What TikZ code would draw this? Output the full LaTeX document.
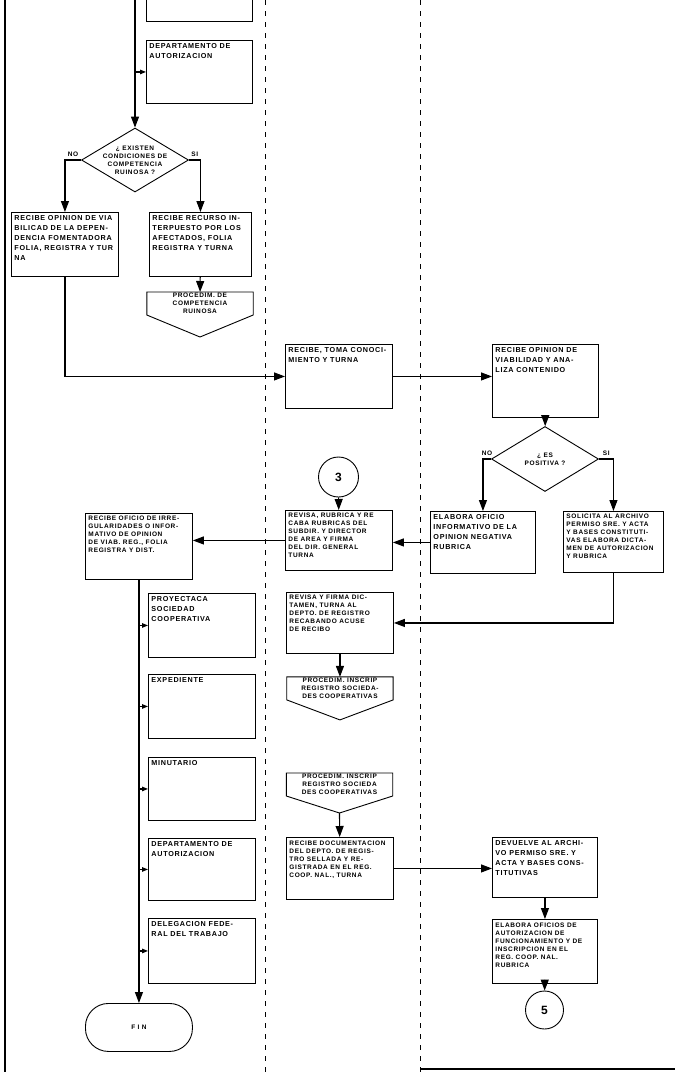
\documentclass[tikz,border=0pt]{standalone}
\usepackage{fontspec}
\newfontfamily\flujo{Liberation Sans}[LetterSpace=10]
\usepackage{tikz}
\usetikzlibrary{arrows.meta,shapes.geometric,positioning}

\newcommand{\letra}{\flujo\bfseries\fontsize{7.2}{10}\selectfont}
\newcommand{\letrab}{\flujo\bfseries\fontsize{6.5}{8}\selectfont}
\newcommand{\textocaja}[3]{\parbox[c][#2][t]{#1}{\raggedright #3}}

\tikzset{
	caja/.style={draw, line width=0.9pt, anchor=north west, inner sep=3pt, font=\letra},
	rombo/.style={draw, diamond, line width=0.9pt, inner sep=0pt},
	circulo/.style={draw, circle, line width=0.9pt, inner sep=0pt, font=\flujo\bfseries\fontsize{12}{12}\selectfont},
	terminal/.style={draw, line width=0.9pt, rounded corners=23pt, anchor=north west, font=\letrab},
	conector/.style={inner sep=1pt, minimum width=106pt, minimum height=21pt, anchor=north, align=center, font=\letrab,
		append after command={\pgfextra{\draw[line width=0.9pt] (\tikzlastnode.south west) -- (\tikzlastnode.north west) -- (\tikzlastnode.north east) -- (\tikzlastnode.south east) -- ([yshift=-#1]\tikzlastnode.south) -- cycle;}}},
	conector/.default=22pt,
	flecha/.style={-{Triangle[length=11pt,width=8pt]}, line width=1.1pt},
	copia/.style={-{Triangle[length=6pt,width=4.5pt]}, line width=1.1pt},
	linea/.style={line width=1.2pt},
	carril/.style={line width=0.8pt, dash pattern=on 5pt off 6pt},
}

\begin{document}
\begin{tikzpicture}[x=1pt, y=-1pt]
\useasboundingbox (0,0) rectangle (675,1072);

% lineas del formato
\draw[linea] (5,0) -- (5,1072);
\draw[carril] (265,0) -- (265,1072);
\draw[carril] (420,0) -- (420,1072);
\draw[line width=1.6pt] (420,1069) -- (675,1069);

% primer carril
\coordinate (entrada) at (135,-5);
\node[caja, anchor=south west, minimum width=106pt, minimum height=60pt] (previo) at (146,22) {};
\node[caja] (dep1) at (146,40) {\textocaja{100pt}{57pt}{DEPARTAMENTO DE\\AUTORIZACION}};
\node[rombo, minimum width=107pt, minimum height=64pt, label={[font=\letrab, align=center]center:{¿ EXISTEN\\CONDICIONES DE\\COMPETENCIA\\RUINOSA ?}}] (existen) at (135,160) {};
\node[caja] (opinion) at (11,212) {\textocaja{101pt}{58pt}{RECIBE OPINION DE VIA\\BILICAD DE LA DEPEN-\\DENCIA FOMENTADORA\\FOLIA, REGISTRA Y TUR\\NA}};
\node[caja] (recurso) at (149,212) {\textocaja{96pt}{58pt}{RECIBE RECURSO IN-\\TERPUESTO POR LOS\\AFECTADOS, FOLIA\\REGISTRA Y TURNA}};
\node[conector] (procA) at (200,292) {PROCEDIM. DE\\COMPETENCIA\\RUINOSA};

\node[caja, font=\letrab] (irreg) at (85,513) {\textocaja{101pt}{60pt}{RECIBE OFICIO DE IRRE-\\GULARIDADES O INFOR-\\MATIVO DE OPINION\\DE VIAB. REG., FOLIA\\REGISTRA Y DIST.}};
\node[caja] (proyecta) at (148,593) {\textocaja{101pt}{58pt}{PROYECTACA\\SOCIEDAD\\COOPERATIVA}};
\node[caja] (expediente) at (148,674) {\textocaja{101pt}{58pt}{EXPEDIENTE}};
\node[caja] (minutario) at (148,757) {\textocaja{101pt}{57pt}{MINUTARIO}};
\node[caja] (dep2) at (148,838) {\textocaja{101pt}{56pt}{DEPARTAMENTO DE\\AUTORIZACION}};
\node[caja] (delegacion) at (148,918) {\textocaja{101pt}{59pt}{DELEGACION FEDE-\\RAL DEL TRABAJO}};
\node[terminal, minimum width=107pt, minimum height=48pt] (fin) at (85,1003) {F I N};

% segundo carril
\node[caja] (toma) at (285,344) {\textocaja{101pt}{58pt}{RECIBE, TOMA CONOCI-\\MIENTO Y TURNA}};
\node[circulo, minimum size=40pt] (tres) at (338.5,477) {3};
\node[caja, font=\letrab] (revisa) at (285,510) {\textocaja{101pt}{54pt}{REVISA, RUBRICA Y RE\\CABA RUBRICAS DEL\\SUBDIR. Y DIRECTOR\\DE AREA Y FIRMA\\DEL DIR. GENERAL\\TURNA}};
\node[caja, font=\letrab] (firma) at (286,592) {\textocaja{101pt}{55pt}{REVISA Y FIRMA DIC-\\TAMEN, TURNA AL\\DEPTO. DE REGISTRO\\RECABANDO ACUSE\\DE RECIBO}};
\node[conector=20pt, below=23pt of firma] (procB) {PROCEDIM. INSCRIP\\REGISTRO SOCIEDA-\\DES COOPERATIVAS};
\node[conector=17pt] (procC) at (339.5,773) {PROCEDIM. INSCRIP\\REGISTRO SOCIEDA\\DES COOPERATIVAS};
\node[caja, font=\letrab] (recdoc) at (286,837) {\textocaja{101pt}{56pt}{RECIBE DOCUMENTACION\\DEL DEPTO. DE REGIS-\\TRO SELLADA Y RE-\\GISTRADA EN EL REG.\\COOP. NAL., TURNA}};

% tercer carril
\node[caja] (viab) at (492,344) {\textocaja{100pt}{67pt}{RECIBE OPINION DE\\VIABILIDAD Y ANA-\\LIZA CONTENIDO}};
\node[rombo, minimum width=107pt, minimum height=65pt, label={[font=\letrab, align=center]center:{¿ ES\\POSITIVA ?}}] (positiva) at (545,459) {};
\node[caja] (negativa) at (430,511) {\textocaja{99pt}{56pt}{ELABORA OFICIO\\INFORMATIVO DE LA\\OPINION NEGATIVA\\RUBRICA}};
\node[caja, font=\letrab] (dictamen) at (563,511) {\textocaja{94pt}{55pt}{SOLICITA AL ARCHIVO\\PERMISO SRE. Y ACTA\\Y BASES CONSTITUTI-\\VAS ELABORA DICTA-\\MEN DE AUTORIZACION\\Y RUBRICA}};
\node[caja] (devuelve) at (492,837) {\textocaja{99pt}{54pt}{DEVUELVE AL ARCHI-\\VO PERMISO SRE. Y\\ACTA Y BASES CONS-\\TITUTIVAS}};
\node[caja, font=\letrab] (oficios) at (492,919) {\textocaja{99pt}{58pt}{ELABORA OFICIOS DE\\AUTORIZACION DE\\FUNCIONAMIENTO Y DE\\INSCRIPCION EN EL\\REG. COOP. NAL.\\RUBRICA}};
\node[circulo, minimum size=38pt] (cinco) at (544.5,1010) {5};

\path[flecha]
(entrada) edge (existen)
(recurso) edge (procA)
(irreg) edge (fin)
(viab) edge (positiva)
(tres) edge (revisa)
(firma) edge (procB)
(devuelve) edge (oficios)
(oficios) edge (cinco);
\draw[copia] (dep1.west -| entrada) -- (dep1.west);
\draw[flecha] (existen.west) -| node[above, pos=0.25, font=\letrab]{NO} (opinion);
\draw[flecha] (existen.east) -| node[above, pos=0.25, font=\letrab]{SI} (recurso);
\draw[flecha] (opinion) |- (toma);
\draw[flecha] (toma.east) -- (toma.east -| viab.west);
\draw[flecha] (positiva.west) -| node[above, pos=0.25, font=\letrab]{NO} (negativa);
\draw[flecha] (positiva.east) -| node[above, pos=0.25, font=\letrab]{SI} (dictamen);
\draw[flecha] (negativa.west) -- (negativa.west -| revisa.east);
\draw[flecha] (revisa.west) -- (revisa.west -| irreg.east);
\draw[flecha] (dictamen.south) |- (firma.east);
\draw[flecha] ([yshift=-17pt]procC.south) -- (recdoc);
\draw[flecha] (recdoc.east) -- (recdoc.east -| devuelve.west);
%\draw[flecha] (recdoc) -- (devuelve);
\foreach \n in {proyecta,expediente,minutario,dep2,delegacion}
	\draw[copia] (\n.west -| irreg.south) -- (\n.west);
\end{tikzpicture}
\end{document}
